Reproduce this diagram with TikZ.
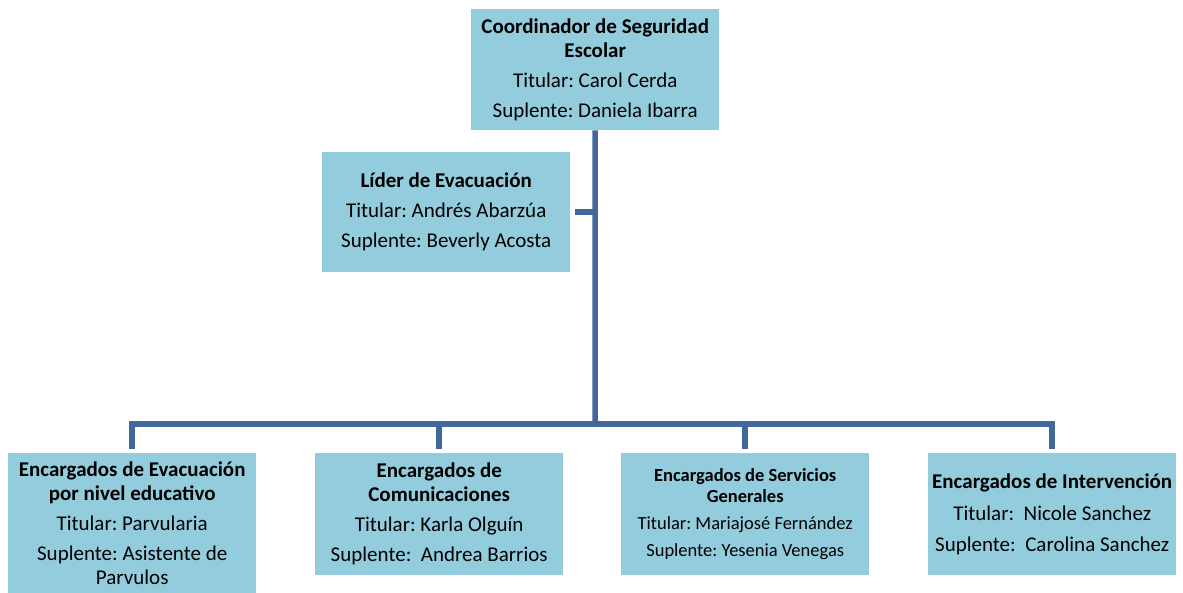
\documentclass[tikz,border=0pt]{standalone}
\usepackage{fontspec}
\setmainfont{Carlito}
\definecolor{boxfill}{HTML}{93CDDD}
\definecolor{linecol}{HTML}{44679B}
\begin{document}
\frenchspacing
\begin{tikzpicture}[x=1pt,y=-1pt,
  orgbox/.style={rectangle, fill=boxfill, draw=none, inner sep=0pt, anchor=north west,
    align=center, font=\fontsize{21}{24}\selectfont\frenchspacing},
  smallbox/.style={orgbox, font=\fontsize{18.5}{21}\selectfont\frenchspacing},
  conn/.style={draw=linecol, line width=5.5pt}]
\useasboundingbox (0,0) rectangle (1183,593);
\node[orgbox, minimum width=248pt, minimum height=121pt] (top) at (471,9)
  {\textbf{Coordinador de Seguridad}\\\textbf{Escolar}\\[6pt]Titular: Carol Cerda\\[6pt]Suplente: Daniela Ibarra};
\node[orgbox, minimum width=248pt, minimum height=120pt] (lider) at (322,152)
  {\textbf{Líder de Evacuación}\\[6pt]Titular: Andrés Abarzúa\\[6pt]Suplente: Beverly Acosta};
\node[orgbox, minimum width=248pt, minimum height=140pt] (b1) at (8,453)
  {\textbf{Encargados de Evacuación}\\\textbf{por nivel educativo}\\[6pt]Titular: Parvularia\\[6pt]Suplente: Asistente de\\Parvulos};
\node[orgbox, minimum width=248pt, minimum height=122pt] (b2) at (315,453)
  {\textbf{Encargados de}\\\textbf{Comunicaciones}\\[6pt]Titular: Karla Olguín\\[6pt]Suplente:\ \ Andrea Barrios};
\node[smallbox, minimum width=248pt, minimum height=122pt] (b3) at (621,453)
  {\textbf{Encargados de Servicios}\\\textbf{Generales}\\[6pt]Titular: Mariajosé Fernández\\[6pt]Suplente: Yesenia Venegas};
\node[orgbox, minimum width=248pt, minimum height=122pt] (b4) at (928,453)
  {\textbf{Encargados de Intervención}\\[8pt]Titular:\ \ Nicole Sanchez\\[7pt]Suplente:\ \ Carolina Sanchez};
\coordinate (bus) at (595,424);
\draw[conn] (top.south) -- (bus);
\draw[conn, shorten <=5pt] (lider.east) -- (lider.east -| top.south);
\draw[conn, shorten <=4pt, shorten >=4pt] (b1.north) |- (bus) -| (b4.north);
\draw[conn, shorten <=4pt] (b2.north) -- (b2.north |- bus);
\draw[conn, shorten <=4pt] (b3.north) -- (b3.north |- bus);
\end{tikzpicture}
\end{document}
